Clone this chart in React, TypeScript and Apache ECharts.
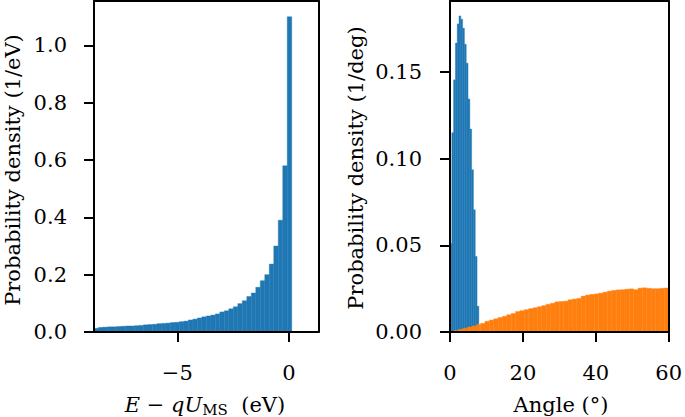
import React, { useEffect, useRef } from "react";
import * as echarts from "echarts";

// ---- Left panel: energy histogram ----
const energyBinStart = -8.73;
const energyBinWidth = 0.2012;
const energyDensity = [
  0.013, 0.016, 0.017, 0.018, 0.018, 0.019, 0.020, 0.021, 0.021, 0.022,
  0.023, 0.025, 0.026, 0.027, 0.029, 0.030, 0.031, 0.033, 0.034, 0.036,
  0.038, 0.042, 0.045, 0.049, 0.053, 0.056, 0.059, 0.063, 0.070, 0.074,
  0.081, 0.088, 0.099, 0.109, 0.124, 0.136, 0.156, 0.179, 0.200, 0.237,
  0.300, 0.390, 0.580, 1.100,
];
const energyRange = [-8.73, 1.33];
const energyTicks = [-5, 0];
const energyDensityMax = 1.155;
const energyDensityTicks = [0, 0.2, 0.4, 0.6, 0.8, 1.0];

// ---- Right panel: angle histograms ----
const angleBlueBinStart = 0;
const angleBlueBinWidth = 0.495;
const angleBlueDensity = [
  0.051, 0.115, 0.1455, 0.1667, 0.1778, 0.1824, 0.1805, 0.1753, 0.166, 0.1551,
  0.1344, 0.1171, 0.0936, 0.0705, 0.0436, 0.0148,
];
const angleOrangeBinStart = 0;
const angleOrangeBinWidth = 1.2;
const angleOrangeDensity = [
  0.0004, 0.0010, 0.0016, 0.0022, 0.0029, 0.0035, 0.0043, 0.0050, 0.0062, 0.0069,
  0.0076, 0.0084, 0.0091, 0.0100, 0.0107, 0.0118, 0.0123, 0.0129, 0.0135, 0.0140,
  0.0146, 0.0152, 0.0160, 0.0166, 0.0174, 0.0176, 0.0178, 0.0186, 0.0190, 0.0194,
  0.0207, 0.0213, 0.0217, 0.0220, 0.0224, 0.0230, 0.0236, 0.0240, 0.0243, 0.0244,
  0.0247, 0.0249, 0.0244, 0.0253, 0.0255, 0.0252, 0.0250, 0.0250, 0.0252, 0.0254,
];
const angleRange = [0, 60];
const angleTicks = [0, 20, 40, 60];
const angleDensityMax = 0.191;
const angleDensityTicks = [0, 0.05, 0.1, 0.15];

const BLUE = "#1f77b4";
const ORANGE = "#ff7f0e";
const FONT = "DejaVu Serif";
const FS = 21;

function toBins(start: number, width: number, values: number[]) {
  return values.map((v, i) => [start + i * width, start + (i + 1) * width, v]);
}

function histRenderer(color: string) {
  return (params: any, api: any) => {
    const x0 = api.value(0);
    const x1 = api.value(1);
    const y = api.value(2);
    const p0 = api.coord([x0, 0]);
    const p1 = api.coord([x1, y]);
    return {
      type: "rect",
      shape: { x: p0[0], y: p1[1], width: p1[0] - p0[0], height: p0[1] - p1[1] },
      style: { fill: color, stroke: color, lineWidth: 0.4 },
    };
  };
}

const minus = (v: number) => (v < 0 ? "\u2212" + String(-v) : String(v));

function mainAxisBase(ticks: number[], fmt: (v: number) => string, margin: number) {
  return {
    type: "value",
    z: 5,
    axisLine: { show: true, onZero: false, lineStyle: { color: "#000", width: 2 } },
    axisTick: { show: true, inside: false, length: 10, lineStyle: { color: "#000", width: 2 }, customValues: ticks },
    axisLabel: {
      show: true,
      customValues: ticks,
      formatter: (v: number) => fmt(v),
      color: "#000",
      fontFamily: FONT,
      fontSize: FS,
      margin,
    },
    splitLine: { show: false },
  };
}

function frameAxis(gridIndex: number, position: string, min: number, max: number) {
  return {
    type: "value",
    gridIndex,
    position,
    min,
    max,
    z: 5,
    axisLine: { show: true, onZero: false, lineStyle: { color: "#000", width: 2 } },
    axisTick: { show: false },
    axisLabel: { show: false },
    splitLine: { show: false },
  };
}

export default function App() {
  const ref = useRef<HTMLDivElement>(null);
  useEffect(() => {
    if (!ref.current) return;
    const chart = echarts.init(ref.current, undefined, { renderer: "svg" });
    const option: any = {
      animation: false,
      backgroundColor: "#fff",
      grid: [
        { left: 94, top: 1, width: 224.7, height: 331 },
        { left: 450, top: 1, width: 222.3, height: 331 },
      ],
      xAxis: [
        {
          ...mainAxisBase(energyTicks, minus, 30),
          gridIndex: 0,
          position: "bottom",
          min: energyRange[0],
          max: energyRange[1],
        },
        {
          ...mainAxisBase(angleTicks, (v) => String(v), 30),
          gridIndex: 1,
          position: "bottom",
          min: angleRange[0],
          max: angleRange[1],
        },
        frameAxis(0, "top", energyRange[0], energyRange[1]),
        frameAxis(1, "top", angleRange[0], angleRange[1]),
      ],
      yAxis: [
        {
          ...mainAxisBase(energyDensityTicks, (v) => v.toFixed(1), 27),
          gridIndex: 0,
          position: "left",
          min: 0,
          max: energyDensityMax,
        },
        {
          ...mainAxisBase(angleDensityTicks, (v) => v.toFixed(2), 28),
          gridIndex: 1,
          position: "left",
          min: 0,
          max: angleDensityMax,
        },
        frameAxis(0, "right", 0, energyDensityMax),
        frameAxis(1, "right", 0, angleDensityMax),
      ],
      series: [
        {
          type: "custom",
          xAxisIndex: 0,
          yAxisIndex: 0,
          renderItem: histRenderer(BLUE),
          encode: { x: [0, 1], y: 2 },
          data: toBins(energyBinStart, energyBinWidth, energyDensity),
          z: 2,
        },
        {
          type: "custom",
          xAxisIndex: 1,
          yAxisIndex: 1,
          renderItem: histRenderer(BLUE),
          encode: { x: [0, 1], y: 2 },
          data: toBins(angleBlueBinStart, angleBlueBinWidth, angleBlueDensity),
          z: 2,
        },
        {
          type: "custom",
          xAxisIndex: 1,
          yAxisIndex: 1,
          renderItem: histRenderer(ORANGE),
          encode: { x: [0, 1], y: 2 },
          data: toBins(angleOrangeBinStart, angleOrangeBinWidth, angleOrangeDensity),
          z: 3,
        },
      ],
      graphic: [
        {
          type: "text",
          x: 205,
          y: 405,
          style: {
            text: "{i|E} \u2212 {i|qU}{s|MS}  (eV)",
            fontFamily: FONT,
            fontSize: FS,
            fill: "#000",
            align: "center",
            verticalAlign: "middle",
            rich: {
              i: { fontStyle: "italic", fontFamily: FONT, fontSize: FS, fill: "#000" },
              s: { fontFamily: FONT, fontSize: 15, fill: "#000", padding: [9, 0, 0, 0] },
            },
          },
        },
        {
          type: "text",
          x: 561,
          y: 405,
          style: {
            text: "Angle (\u00b0)",
            fontFamily: FONT,
            fontSize: FS,
            fill: "#000",
            align: "center",
            verticalAlign: "middle",
          },
        },
        {
          type: "text",
          x: 13,
          y: 170,
          rotation: Math.PI / 2,
          style: {
            text: "Probability density (1/eV)",
            fontFamily: FONT,
            fontSize: FS,
            fill: "#000",
            align: "center",
            verticalAlign: "middle",
          },
        },
        {
          type: "text",
          x: 356,
          y: 168,
          rotation: Math.PI / 2,
          style: {
            text: "Probability density (1/deg)",
            fontFamily: FONT,
            fontSize: FS,
            fill: "#000",
            align: "center",
            verticalAlign: "middle",
          },
        },
      ],
    };
    chart.setOption(option);
    return () => chart.dispose();
  }, []);
  return (
    <div
      ref={ref}
      style={{ position: "fixed", left: 0, top: 0, width: 685, height: 417, background: "#fff" }}
    />
  );
}
